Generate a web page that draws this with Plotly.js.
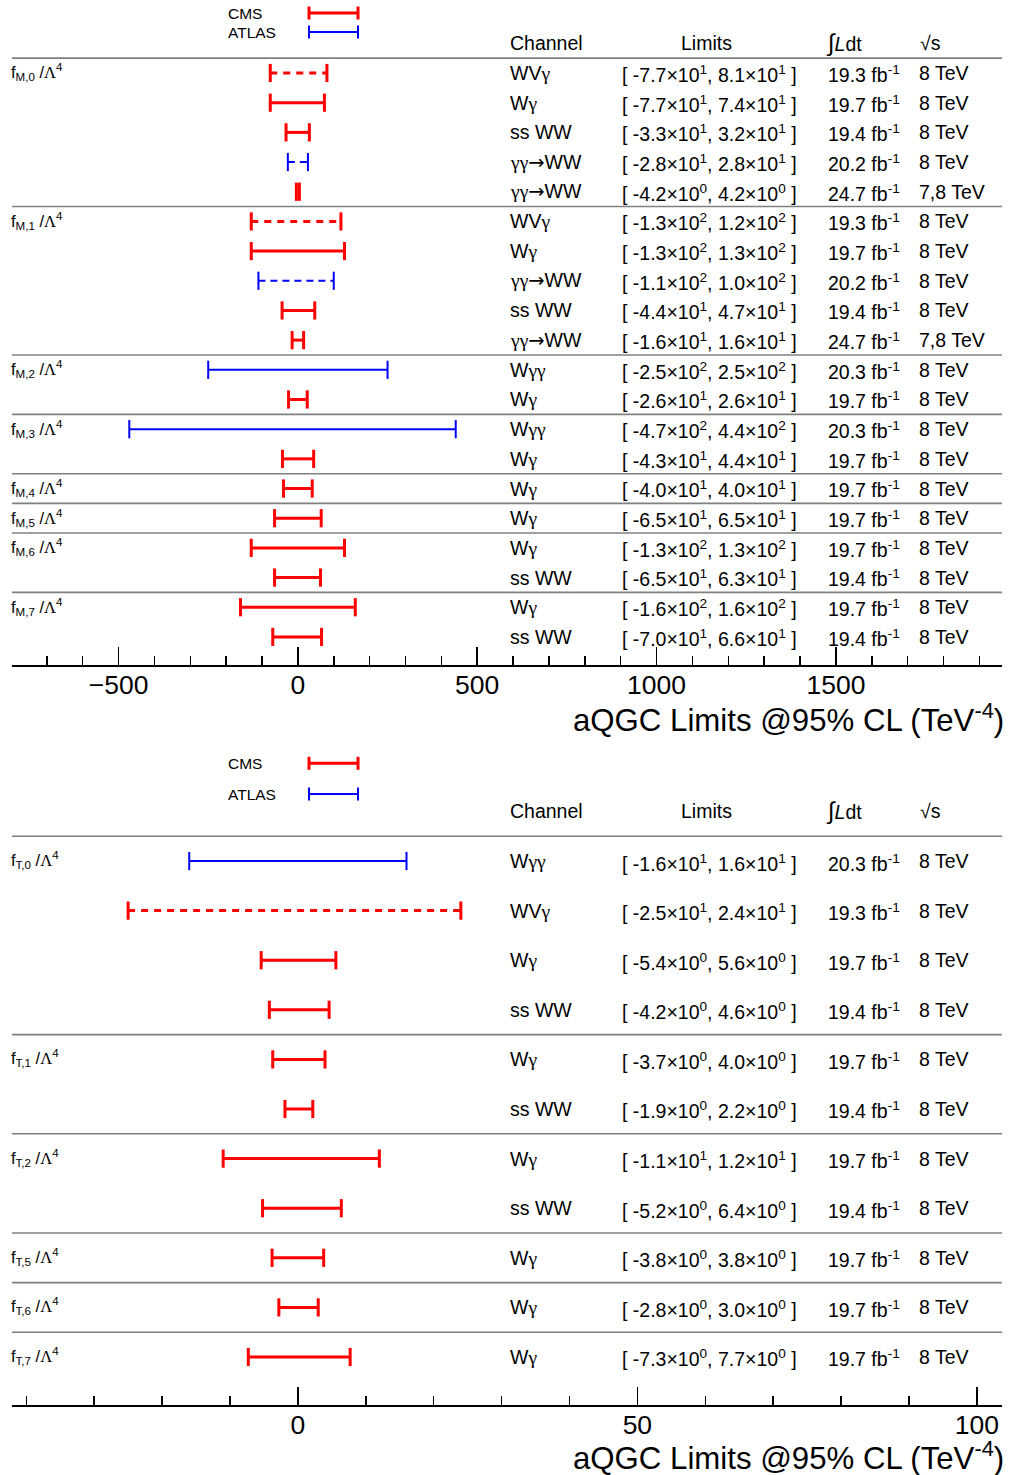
<!DOCTYPE html>
<html><head><meta charset="utf-8">
<script src="https://cdn.plot.ly/plotly-3.0.1.min.js"></script>
<style>html,body{margin:0;padding:0;background:#fff}</style>
</head><body><div id="chart" style="width:1010px;height:1475px"></div>
<script>
// ---------------- Upper panel: f_M,i / Lambda^4 (TeV^-4)
const mOperators = ['M,0','M,0','M,0','M,0','M,0','M,1','M,1','M,1','M,1','M,1','M,2','M,2','M,3','M,3','M,4','M,5','M,6','M,6','M,7','M,7'];
const mChannels  = ['WVγ','Wγ','ss WW','γγ→WW','γγ→WW','WVγ','Wγ','γγ→WW','ss WW','γγ→WW','Wγγ','Wγ','Wγγ','Wγ','Wγ','Wγ','Wγ','ss WW','Wγ','ss WW'];
const mLower     = [-77,-77,-33,-28,-4.2,-130,-130,-110,-44,-16,-250,-26,-470,-43,-40,-65,-130,-65,-160,-70];
const mUpper     = [81,74,32,28,4.2,120,130,100,47,16,250,26,440,44,40,65,130,63,160,66];
const mExperiment= ['CMS','CMS','CMS','ATLAS','CMS','CMS','CMS','ATLAS','CMS','CMS','ATLAS','CMS','ATLAS','CMS','CMS','CMS','CMS','CMS','CMS','CMS'];
const mDashed    = [true,false,false,true,false,true,false,true,false,false,false,false,false,false,false,false,false,false,false,false];
const mLumi      = ['19.3','19.7','19.4','20.2','24.7','19.3','19.7','20.2','19.4','24.7','20.3','19.7','20.3','19.7','19.7','19.7','19.7','19.4','19.7','19.4'];
const mSqrtS     = ['8','8','8','8','7,8','8','8','8','8','7,8','8','8','8','8','8','8','8','8','8','8'];

// ---------------- Lower panel: f_T,i / Lambda^4 (TeV^-4)
const tOperators = ['T,0','T,0','T,0','T,0','T,1','T,1','T,2','T,2','T,5','T,6','T,7'];
const tChannels  = ['Wγγ','WVγ','Wγ','ss WW','Wγ','ss WW','Wγ','ss WW','Wγ','Wγ','Wγ'];
const tLower     = [-16,-25,-5.4,-4.2,-3.7,-1.9,-11,-5.2,-3.8,-2.8,-7.3];
const tUpper     = [16,24,5.6,4.6,4.0,2.2,12,6.4,3.8,3.0,7.7];
const tExperiment= ['ATLAS','CMS','CMS','CMS','CMS','CMS','CMS','CMS','CMS','CMS','CMS'];
const tDashed    = [false,true,false,false,false,false,false,false,false,false,false];
const tLumi      = ['20.3','19.3','19.7','19.4','19.7','19.4','19.7','19.4','19.7','19.7','19.7'];
const tSqrtS     = ['8','8','8','8','8','8','8','8','8','8','8'];

const legendEntries = ['CMS','ATLAS'];
const headers = ['Channel','Limits','<span style="font-size:24px">∫</span><i>L</i>dt','√s'];
const axisTitle = 'aQGC Limits @95% CL (TeV<sup>-4</sup>)';

// ---------------- styling / layout helpers
const W = 1010, H = 1475;
const FONT = 'Liberation Sans, Arial, Helvetica, sans-serif';
const style = {
  CMS:   {color:'#ff0000', width:3, cap:13},
  ATLAS: {color:'#0000ff', width:2, cap:13}
};
const px = v => v / W;          // horizontal pixel -> paper
const py = v => 1 - v / H;      // vertical pixel -> paper

function greek(s){
  return s.replace(/γ/g, '<span style="font-family:Liberation Serif">γ</span>')
          .replace(/→/g, '<span style="font-family:DejaVu Sans">→</span>')
          .replace(/Λ/g, '<span style="font-family:Liberation Serif">Λ</span>');
}
function fmt(v){
  const e = Math.floor(Math.log10(Math.abs(v)) + 1e-9);
  const m = v / Math.pow(10, e);
  return m.toFixed(1) + '×10<sup>' + e + '</sup>';
}

const traces = [], shapes = [], annotations = [];

function buildPanel(P){
  const yr = P.yref, xr = P.xref;
  const n = P.channels.length;
  const tf = {family:FONT, size:19.5, color:'#000'};
  for (let i = 0; i < n; i++){
    const s = style[P.exp[i]];
    traces.push({
      type:'scatter', mode:'lines+markers', xaxis:xr, yaxis:yr,
      x:[P.lower[i], P.upper[i]], y:[i, i],
      line:{color:s.color, width:s.width, dash: P.dashed[i] ? (P.exp[i]==='CMS' ? '7px,6px' : '7px,5px') : 'solid'},
      marker:{symbol:'line-ns', size:s.cap, color:s.color, line:{color:s.color, width:s.width}},
      showlegend:false, hoverinfo:'skip'
    });
    annotations.push({xref:'paper', yref:yr, x:px(508), y:i, text:greek(P.channels[i]), showarrow:false, xanchor:'left', yanchor:'middle', font:tf});
    annotations.push({xref:'paper', yref:yr, x:px(620), y:i+0.03, text:'[ ' + fmt(P.lower[i]) + ', ' + fmt(P.upper[i]) + ' ]', showarrow:false, xanchor:'left', yanchor:'middle', font:tf});
    annotations.push({xref:'paper', yref:yr, x:px(826), y:i+0.03, text:P.lumi[i] + ' fb<sup>-1</sup>', showarrow:false, xanchor:'left', yanchor:'middle', font:tf});
    annotations.push({xref:'paper', yref:yr, x:px(917), y:i, text:P.sqrts[i] + ' TeV', showarrow:false, xanchor:'left', yanchor:'middle', font:tf});
    if (i === 0 || P.ops[i] !== P.ops[i-1]){
      annotations.push({xref:'paper', yref:yr, x:px(9), y:i-0.02, text:'f<sub>' + P.ops[i] + '</sub> /' + greek('Λ') + '<sup>4</sup>', showarrow:false, xanchor:'left', yanchor:'middle', font:{family:FONT, size:16.5, color:'#000'}});
      shapes.push({type:'line', xref:'paper', yref:yr, x0:px(12), x1:px(1002), y0:i-0.5, y1:i-0.5, line:{color:'#808080', width:1.6}});
    }
  }
  annotations.push({xref:'paper', yref:yr, x:px(508), y:-1, text:headers[0], showarrow:false, xanchor:'left', yanchor:'middle', font:tf});
  annotations.push({xref:'paper', yref:yr, x:px(706), y:-1, text:headers[1], showarrow:false, xanchor:'center', yanchor:'middle', font:tf});
  annotations.push({xref:'paper', yref:yr, x:px(824), y:-1, text:headers[2], showarrow:false, xanchor:'left', yanchor:'middle', font:tf});
  annotations.push({xref:'paper', yref:yr, x:px(918), y:-1, text:headers[3], showarrow:false, xanchor:'left', yanchor:'middle', font:tf});
  legendEntries.forEach((name, k) => {
    const s = style[name];
    const yv = P.legendY[k];
    annotations.push({xref:'paper', yref:yr, x:px(226), y:yv, text:name, showarrow:false, xanchor:'left', yanchor:'middle', font:{family:FONT, size:15.5, color:'#000'}});
    shapes.push({type:'line', xref:'paper', yref:yr, x0:px(309), x1:px(358), y0:yv, y1:yv, line:{color:s.color, width:s.width}});
    [309, 358].forEach(xx => shapes.push({type:'line', xref:'paper', yref:yr, ysizemode:'pixel', yanchor:yv, x0:px(xx), x1:px(xx), y0:-s.cap/2, y1:s.cap/2, line:{color:s.color, width:s.width}}));
  });
  annotations.push({xref:'paper', yref:'paper', x:px(1006), y:py(P.titleY), text:axisTitle, showarrow:false, xanchor:'right', yanchor:'middle', font:{family:FONT, size:31.2, color:'#000'}});
}

buildPanel({xref:'x', yref:'y', ops:mOperators, channels:mChannels, lower:mLower, upper:mUpper, exp:mExperiment, dashed:mDashed, lumi:mLumi, sqrts:mSqrtS, legendY:[-2.02,-1.38], titleY:718});
buildPanel({xref:'x2', yref:'y2', ops:tOperators, channels:tChannels, lower:tLower, upper:tUpper, exp:tExperiment, dashed:tDashed, lumi:tLumi, sqrts:tSqrtS, legendY:[-1.97,-1.35], titleY:1456});

const xbase = {
  showline:true, linecolor:'#000', linewidth:1.5, mirror:false,
  ticks:'inside', ticklen:18, tickwidth:1.5, tickcolor:'#000',
  showgrid:false, zeroline:false, ticklabelstandoff:-4,
  tickfont:{family:FONT, size:26.5, color:'#000'},
  domain:[px(12), px(1002)], fixedrange:true
};
const ybase = {showline:false, showticklabels:false, ticks:'', showgrid:false, zeroline:false, fixedrange:true};

const layout = {
  width:W, height:H, margin:{l:0,r:0,t:0,b:0},
  paper_bgcolor:'#fff', plot_bgcolor:'rgba(0,0,0,0)', showlegend:false,
  xaxis: Object.assign({}, xbase, {anchor:'y', range:[-797,1963], tick0:0, dtick:500,
    minor:{dtick:100, ticks:'inside', ticklen:9, tickwidth:1.5, tickcolor:'#000', showgrid:false}}),
  yaxis: Object.assign({}, ybase, {domain:[py(665), 1], range:[19.946, -2.46]}),
  xaxis2: Object.assign({}, xbase, {anchor:'y2', range:[-42.1,103.7], tick0:0, dtick:50,
    minor:{dtick:10, ticks:'inside', ticklen:9, tickwidth:1.5, tickcolor:'#000', showgrid:false}}),
  yaxis2: Object.assign({}, ybase, {domain:[py(1405), py(745)], range:[10.968, -2.339]}),
  shapes:shapes, annotations:annotations
};

Plotly.newPlot('chart', traces, layout, {staticPlot:true, displayModeBar:false});
</script></body></html>
